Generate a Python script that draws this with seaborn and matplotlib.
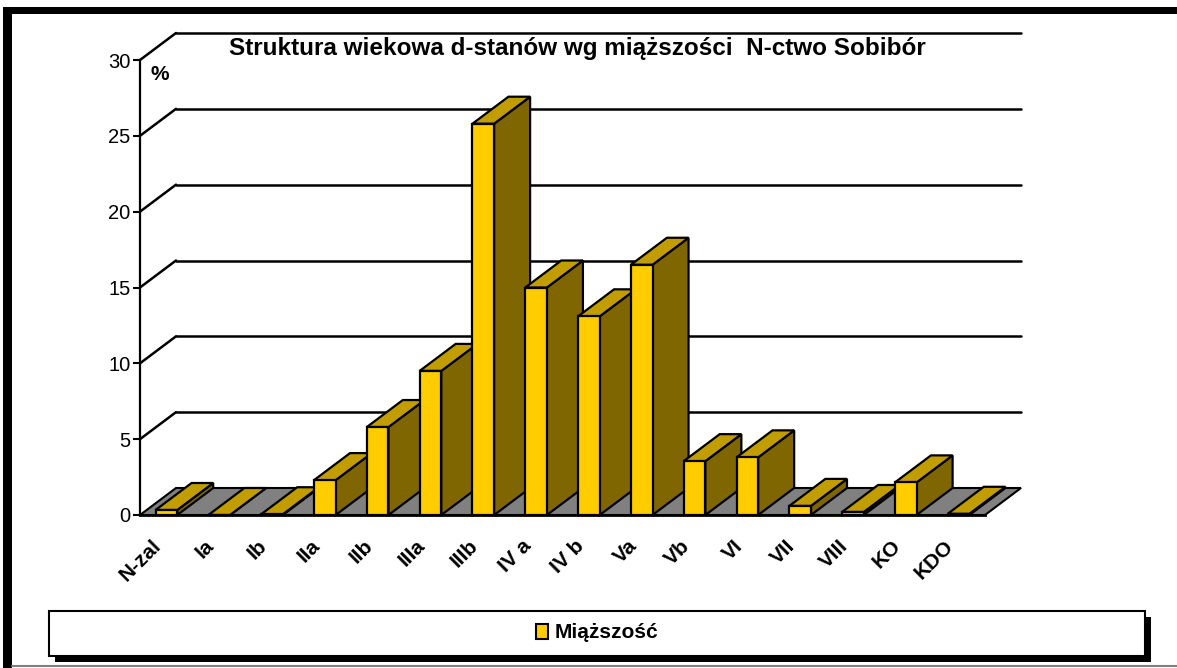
import matplotlib
matplotlib.use('Agg')
import pandas as pd
import matplotlib.pyplot as plt
import matplotlib.transforms as mtransforms
import seaborn as sns
from matplotlib.patches import Polygon, Rectangle
from matplotlib.lines import Line2D

# data (% of volume per age class)
classes = ['N-zal', 'Ia', 'Ib', 'IIa', 'IIb', 'IIIa', 'IIIb', 'IV a', 'IV b',
           'Va', 'Vb', 'VI', 'VII', 'VIII', 'KO', 'KDO']
volume_pct = [0.33, 0.0, 0.05, 2.3, 5.8, 9.5, 25.8, 15.0, 13.1,
              16.5, 3.55, 3.8, 0.6, 0.2, 2.15, 0.08]
y_ticks = [0, 5, 10, 15, 20, 25, 30]
title = 'Struktura wiekowa d-stanów wg miąższości  N-ctwo Sobibór'
series_name = 'Miąższość'

df = pd.DataFrame({'klasa': classes, 'miazszosc': volume_pct})

sns.set_style('white')
plt.rcParams['font.family'] = ['Liberation Sans', 'DejaVu Sans']
plt.rcParams['text.color'] = 'black'
plt.rcParams['xtick.color'] = 'black'
plt.rcParams['ytick.color'] = 'black'

FRONT = '#FFCC00'
TOP = '#C29D00'
SIDE = '#806600'
FLOOR = '#808080'

W, H = 1177, 668
fig = plt.figure(figsize=(W / 100, H / 100), dpi=100)
ax = fig.add_axes([140 / W, 1 - 515 / H, 845 / W, 455 / H])
ax.patch.set_alpha(0)

sns.barplot(data=df, x='klasa', y='miazszosc', color=FRONT, saturation=1,
            width=0.41, edgecolor='black', linewidth=1.6, errorbar=None, ax=ax)
bars = list(ax.patches)

ax.set_xlim(-0.5, len(classes) - 0.5)
ax.set_ylim(0, 30)

# 3d depth of the chart, in pixels -> data units
p0 = ax.transData.transform((0, 0))
p1 = ax.transData.transform((1, 1))
ddx = 36 / (p1[0] - p0[0])
ddy = 27 / (p1[1] - p0[1])
x_lo, x_hi = ax.get_xlim()

# floor
ax.add_patch(Polygon([(x_lo, 0), (x_hi, 0), (x_hi + ddx, ddy), (x_lo + ddx, ddy)],
                     closed=True, facecolor=FLOOR, edgecolor='black', lw=1.5,
                     clip_on=False, zorder=1))

# back wall gridlines + side wall diagonals
for v in y_ticks[1:]:
    ax.add_line(Line2D([x_lo, x_lo + ddx], [v, v + ddy], color='black', lw=1.8,
                       clip_on=False, zorder=0.5))
    ax.add_line(Line2D([x_lo + ddx, x_hi + ddx], [v + ddy, v + ddy], color='black',
                       lw=1.8, clip_on=False, zorder=0.5))

# side and top faces of each bar
for i, p in enumerate(bars):
    x0, w, h = p.get_x(), p.get_width(), p.get_height()
    z = 2 + i * 0.1
    side = Polygon([(x0 + w, 0), (x0 + w + ddx, ddy), (x0 + w + ddx, h + ddy), (x0 + w, h)],
                   closed=True, facecolor=SIDE, edgecolor='black', lw=1.6,
                   clip_on=False, zorder=z)
    top = Polygon([(x0, h), (x0 + w, h), (x0 + w + ddx, h + ddy), (x0 + ddx, h + ddy)],
                  closed=True, facecolor=TOP, edgecolor='black', lw=1.6,
                  clip_on=False, zorder=z + 0.01)
    ax.add_patch(side)
    ax.add_patch(top)
    p.set_zorder(z + 0.02)
    p.set_clip_on(False)

# axes styling
for s in ['top', 'right']:
    ax.spines[s].set_visible(False)
ax.spines['left'].set_color('black')
ax.spines['left'].set_linewidth(1.6)
ax.spines['bottom'].set_color('black')
ax.spines['bottom'].set_linewidth(2)
ax.spines['bottom'].set_zorder(10)
ax.set_xlabel('')
ax.set_ylabel('')
ax.set_yticks(y_ticks)
ax.tick_params(axis='y', direction='out', length=5, width=1.5, pad=2, labelsize=14.5, left=True)
ax.tick_params(axis='x', length=0, pad=23)
shift = mtransforms.ScaledTranslation(-4 / 100, 0, fig.dpi_scale_trans)
for lbl in ax.get_xticklabels():
    lbl.set_rotation(45)
    lbl.set_ha('right')
    lbl.set_va('baseline')
    lbl.set_rotation_mode('anchor')
    lbl.set_fontweight('bold')
    lbl.set_fontsize(15)
    lbl.set_transform(lbl.get_transform() + shift)

fig.text(577 / W, 1 - 48 / H, title, ha='center', va='center', fontweight='bold', fontsize=17.5)
fig.text(160 / W, 1 - 74 / H, '%', ha='center', va='center', fontweight='bold', fontsize=15)

# legend box with shadow
fig.add_artist(Rectangle((55 / W, 1 - 662 / H), 1096 / W, 45 / H, transform=fig.transFigure,
                         facecolor='black', lw=0, zorder=1))
fig.add_artist(Rectangle((49 / W, 1 - 656 / H), 1096 / W, 45 / H, transform=fig.transFigure,
                         facecolor='white', edgecolor='black', lw=1.5, zorder=1.1))
handle = Rectangle((0, 0), 1, 1, facecolor=FRONT, edgecolor='black', lw=1.5)
fig.legend([handle], [series_name], loc='center', bbox_to_anchor=(597 / W, 1 - 633 / H),
           frameon=False, prop={'weight': 'bold', 'size': 15}, handlelength=0.6,
           handleheight=0.75, handletextpad=0.3)

# outer chart border
fig.add_artist(Rectangle((3 / W, 1 - 14 / H), (W - 3) / W, 7 / H, transform=fig.transFigure,
                         facecolor='black', lw=0))
fig.add_artist(Rectangle((3 / W, 0), 9 / W, (H - 7) / H, transform=fig.transFigure,
                         facecolor='black', lw=0))
fig.add_artist(Line2D([12 / W, 1], [1 - 666 / H, 1 - 666 / H], transform=fig.transFigure,
                      color='#808080', lw=1.5))

fig.savefig('out.png', dpi=100)
